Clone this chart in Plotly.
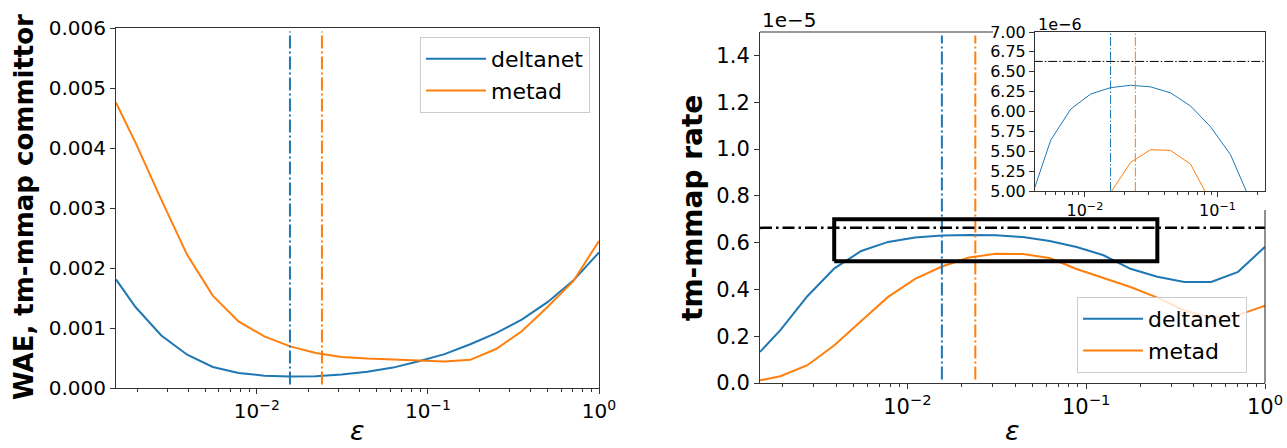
import numpy as np
import plotly.graph_objects as go

# epsilon grid (log-spaced, ratio sqrt(2) above the first point)
eps = [0.0015, 0.00195, 0.00276, 0.00391, 0.00552, 0.00781, 0.01105, 0.01563,
       0.0221, 0.03125, 0.0442, 0.0625, 0.0884, 0.125, 0.1768, 0.25,
       0.3536, 0.5, 0.7071, 1.0]

# weighted absolute error of the tm-mmap committor (units of 1e-3)
wae_deltanet = np.array([1.81, 1.35, 0.875, 0.555, 0.35, 0.25, 0.205, 0.19, 0.195, 0.225,
                         0.27, 0.34, 0.445, 0.565, 0.73, 0.915, 1.14, 1.43, 1.79, 2.26]) * 1e-3
wae_metad = np.array([4.755, 4.09, 3.14, 2.22, 1.54, 1.11, 0.86, 0.694, 0.584, 0.517,
                      0.49, 0.47, 0.455, 0.44, 0.47, 0.65, 0.945, 1.35, 1.78, 2.45]) * 1e-3

# tm-mmap rate (units of 1e-6)
rate_deltanet = np.array([1.33, 2.26, 3.71, 4.90, 5.64, 6.03, 6.22, 6.30, 6.33, 6.31,
                          6.235, 6.07, 5.81, 5.46, 4.88, 4.54, 4.32, 4.32, 4.75, 5.82]) * 1e-6
rate_metad = np.array([0.115, 0.29, 0.76, 1.61, 2.65, 3.68, 4.45, 4.98, 5.36, 5.52,
                       5.51, 5.34, 4.87, 4.5, 4.1, 3.65, 3.1, 2.78, 2.9, 3.3]) * 1e-6

# selected epsilon for each method and the reference rate
eps_star_deltanet = 0.0156
eps_star_metad = 0.024
rate_reference = 6.63e-6

# zoom rectangle drawn on the rate panel
box_eps = [0.0039, 0.25]
box_rate = [0.52e-5, 0.70e-5]

# axis limits and ticks
eps_lim = [0.0015, 1.0]
inset_eps_lim = [0.0042, 0.228]
wae_lim = [0.0, 0.006]
rate_lim = [0.0, 1.5e-5]
inset_rate_lim = [5.0e-6, 7.0e-6]
wae_ticks = [0.000, 0.001, 0.002, 0.003, 0.004, 0.005, 0.006]
rate_ticks = [0.0, 0.2, 0.4, 0.6, 0.8, 1.0, 1.2, 1.4]
inset_rate_ticks = [5.00, 5.25, 5.50, 5.75, 6.00, 6.25, 6.50, 6.75, 7.00]
decade_ticks = [0.01, 0.1, 1.0]
decade_text = ["10<sup>\u22122</sup>", "10<sup>\u22121</sup>", "10<sup>0</sup>"]

BLUE = "#1f77b4"
ORANGE = "#ff7f0e"
SPINE = "#333333"
FONT = "DejaVu Sans"
W, H = 1287, 448

minor_vals = [m * 10.0 ** p for p in (-3, -2, -1) for m in range(2, 10)]


def px_x(v):
    return v / W


def px_y(v):
    return 1 - v / H


fig = go.Figure()

# ---- left panel: WAE ----
fig.add_trace(go.Scatter(x=eps, y=wae_deltanet, mode="lines", name="deltanet",
                         line=dict(color=BLUE, width=2), xaxis="x", yaxis="y",
                         legend="legend", legendgroup="a"))
fig.add_trace(go.Scatter(x=eps, y=wae_metad, mode="lines", name="metad",
                         line=dict(color=ORANGE, width=2), xaxis="x", yaxis="y",
                         legend="legend", legendgroup="b"))
for e, c in ((eps_star_deltanet, BLUE), (eps_star_metad, ORANGE)):
    fig.add_trace(go.Scatter(x=[e, e], y=[wae_lim[1] * 0.01, wae_lim[1] * 0.99], mode="lines",
                             line=dict(color=c, width=2, dash="13px,3px,2px,3px"),
                             xaxis="x", yaxis="y", showlegend=False, hoverinfo="skip"))

# ---- right panel: rate ----
fig.add_trace(go.Scatter(x=eps, y=rate_deltanet, mode="lines", name="deltanet",
                         line=dict(color=BLUE, width=2), xaxis="x2", yaxis="y2",
                         legend="legend2", legendgroup="c"))
fig.add_trace(go.Scatter(x=eps, y=rate_metad, mode="lines", name="metad",
                         line=dict(color=ORANGE, width=2), xaxis="x2", yaxis="y2",
                         legend="legend2", legendgroup="d"))
for e, c in ((eps_star_deltanet, BLUE), (eps_star_metad, ORANGE)):
    fig.add_trace(go.Scatter(x=[e, e], y=[rate_lim[1] * 0.01, rate_lim[1] * 0.99], mode="lines",
                             line=dict(color=c, width=2, dash="13px,3px,2px,3px"),
                             xaxis="x2", yaxis="y2", showlegend=False, hoverinfo="skip"))
fig.add_trace(go.Scatter(x=eps_lim, y=[rate_reference, rate_reference], mode="lines",
                         line=dict(color="black", width=2.5, dash="12px,4px,2.5px,4px"),
                         xaxis="x2", yaxis="y2", showlegend=False, hoverinfo="skip"))
fig.add_trace(go.Scatter(x=[box_eps[0], box_eps[1], box_eps[1], box_eps[0], box_eps[0]],
                         y=[box_rate[0], box_rate[0], box_rate[1], box_rate[1], box_rate[0]],
                         mode="lines", line=dict(color="black", width=4),
                         xaxis="x2", yaxis="y2", showlegend=False, hoverinfo="skip"))

# ---- inset ----
fig.add_trace(go.Scatter(x=eps, y=rate_deltanet, mode="lines", line=dict(color=BLUE, width=1),
                         xaxis="x3", yaxis="y3", showlegend=False))
fig.add_trace(go.Scatter(x=eps, y=rate_metad, mode="lines", line=dict(color=ORANGE, width=1),
                         xaxis="x3", yaxis="y3", showlegend=False))
for e, c in ((eps_star_deltanet, BLUE), (eps_star_metad, ORANGE)):
    fig.add_trace(go.Scatter(x=[e, e], y=inset_rate_lim, mode="lines",
                             line=dict(color=c, width=1, dash="9px,2px,1.5px,2px"),
                             xaxis="x3", yaxis="y3", showlegend=False, hoverinfo="skip"))
fig.add_trace(go.Scatter(x=eps_lim, y=[rate_reference, rate_reference], mode="lines",
                         line=dict(color="black", width=1, dash="9px,2px,1.5px,2px"),
                         xaxis="x3", yaxis="y3", showlegend=False, hoverinfo="skip"))


def log_axis(domain, lim, size, anchor, mirror):
    return dict(
        type="log", domain=domain, range=[np.log10(lim[0]), np.log10(lim[1])], anchor=anchor,
        automargin=False,
        showline=True, linecolor=SPINE, linewidth=1.1, mirror=mirror,
        ticks="outside", ticklen=5, tickwidth=1.1, tickcolor=SPINE,
        tickvals=decade_ticks, ticktext=decade_text,
        tickfont=dict(family=FONT, size=size, color="black"),
        minor=dict(ticks="outside", ticklen=3, tickwidth=0.8, tickcolor=SPINE,
                   tickvals=minor_vals, showgrid=False),
        showgrid=False, zeroline=False,
    )


def lin_axis(domain, lim, vals, text, size, anchor, mirror):
    return dict(
        domain=domain, range=lim, anchor=anchor, automargin=False,
        showline=True, linecolor=SPINE, linewidth=1.1, mirror=mirror,
        ticks="outside", ticklen=5, tickwidth=1.1, tickcolor=SPINE,
        tickvals=vals, ticktext=text,
        tickfont=dict(family=FONT, size=size, color="black"),
        showgrid=False, zeroline=False,
    )


left_x = [px_x(116), px_x(599)]
left_y = [px_y(388), px_y(28)]
right_x = [px_x(760), px_x(1265)]
right_y = [px_y(383), px_y(32)]
inset_x = [px_x(1035), px_x(1265)]
inset_y = [px_y(191), px_y(32)]

legend_style = dict(xanchor="left", yanchor="top",
                    bgcolor="rgba(255,255,255,0.8)", bordercolor="#cccccc", borderwidth=1,
                    font=dict(family=FONT, size=22, color="black"), itemwidth=60,
                    tracegroupgap=0)

fig.update_layout(
    template="none",
    width=W, height=H, margin=dict(l=0, r=0, t=0, b=0, pad=0), autosize=False,
    paper_bgcolor="white", plot_bgcolor="rgba(0,0,0,0)",
    font=dict(family=FONT, color="black"),
    xaxis=log_axis(left_x, eps_lim, 20, "y", True),
    yaxis=lin_axis(left_y, wae_lim, wae_ticks, [f"{v:.3f}" for v in wae_ticks], 20, "x", True),
    xaxis2=log_axis(right_x, eps_lim, 21, "y2", False),
    yaxis2=lin_axis(right_y, rate_lim, [v * 1e-5 for v in rate_ticks],
                    [f"{v:.1f}" for v in rate_ticks], 21, "x2", False),
    xaxis3=log_axis(inset_x, inset_eps_lim, 16, "y3", True),
    yaxis3=lin_axis(inset_y, inset_rate_lim, [v * 1e-6 for v in inset_rate_ticks],
                    [f"{v:.2f}" for v in inset_rate_ticks], 16, "x3", True),
    legend=dict(x=px_x(420), y=px_y(37), **legend_style),
    legend2=dict(x=px_x(1077), y=px_y(297), **legend_style),
    showlegend=True,
)

# visible parts of the rate panel's top and right spines
fig.add_shape(type="line", xref="x2 domain", yref="y2 domain", x0=0, x1=(993 - 760) / 505,
              y0=1, y1=1, line=dict(color=SPINE, width=1.1))
fig.add_shape(type="line", xref="x2 domain", yref="y2 domain", x0=1, x1=1,
              y0=0, y1=(383 - 210) / 351, line=dict(color=SPINE, width=1.1))

annots = [
    dict(text="<b>WAE, tm-mmap committor</b>", x=px_x(24), y=px_y(207), textangle=-90,
         yanchor="middle", font=dict(size=26)),
    dict(text="<b>tm-mmap rate</b>", x=px_x(692), y=px_y(208), textangle=-90,
         yanchor="middle", font=dict(size=28)),
    dict(text="<i>\u03b5</i>", x=px_x(357.5), y=px_y(448), yanchor="bottom", font=dict(size=27)),
    dict(text="<i>\u03b5</i>", x=px_x(1012.5), y=px_y(448), yanchor="bottom", font=dict(size=27)),
    dict(text="1e\u22125", x=px_x(760), y=px_y(20), xanchor="left", yanchor="middle",
         font=dict(size=20)),
    dict(text="1e\u22126", x=px_x(1036), y=px_y(25), xanchor="left", yanchor="middle",
         font=dict(size=16)),
]
for a in annots:
    a.setdefault("xanchor", "center")
    fig.add_annotation(xref="paper", yref="paper", showarrow=False,
                       font_family=FONT, font_color="black", **a)

fig.write_html("out.html")
